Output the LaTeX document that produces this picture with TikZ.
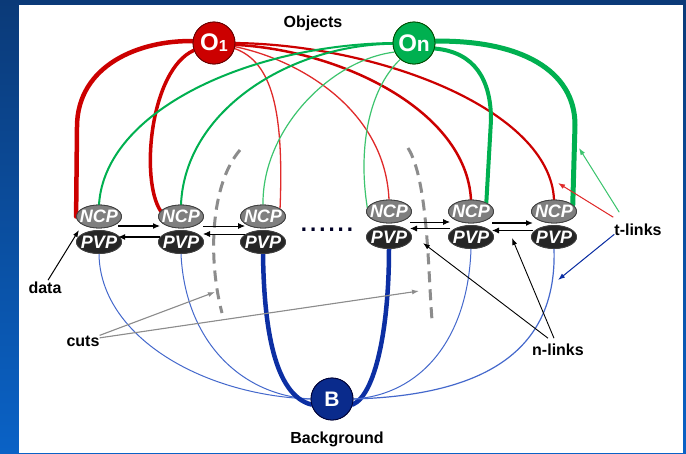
\documentclass[tikz,border=0pt]{standalone}
\usepackage{fontspec}
\setmainfont{Liberation Sans}
\usetikzlibrary{arrows.meta,calc,shapes.geometric}
\definecolor{frameTop}{HTML}{0B3A78}
\definecolor{frameBot}{HTML}{0A62C6}
\definecolor{redc}{HTML}{CC0000}
\definecolor{redthin}{HTML}{E02A2A}
\definecolor{greenc}{HTML}{00B050}
\definecolor{greenthin}{HTML}{3CC46E}
\definecolor{bluethick}{HTML}{0C2FA3}
\definecolor{bluethin}{HTML}{4468CC}
\definecolor{navyB}{HTML}{0A2B8C}
\definecolor{ncpgray}{HTML}{7F7F7F}
\definecolor{pvpdark}{HTML}{262626}
\definecolor{cutgray}{HTML}{8C8C8C}
\begin{document}
\begin{tikzpicture}[x=1pt,y=-1pt,
  obj/.style={circle, minimum size=42pt, inner sep=0pt, line width=0.8pt, text=white},
  ncpnode/.style={ellipse, minimum width=45pt, minimum height=23pt, inner sep=0pt, draw=black!75, fill=ncpgray, line width=0.8pt, text=white, font=\fontsize{18}{18}\selectfont\itshape},
  pvpnode/.style={ncpnode, fill=pvpdark},
  lab/.style={font=\fontsize{16}{19}\selectfont\bfseries, inner sep=0pt, anchor=base, text=black},
  nar/.style={-{Latex[length=7pt,width=6pt]}, line width=1.1pt, black},
  ptr/.style={-{Latex[length=7pt,width=5pt]}, line width=1pt},
  cutline/.style={cutgray, line width=3pt, dash pattern=on 11pt off 7pt},
  rc/.style={draw=redc, line cap=round},
  gc/.style={draw=greenc, line cap=round},
  bc/.style={draw=bluethick, line cap=round}
]
\useasboundingbox (0,0) rectangle (686,453);
\shade[top color=frameTop, bottom color=frameBot] (0,0) rectangle (686,453);
\fill[white] (19,5) rectangle (683,453);

% nodes (placed first so anchors exist)
\node[obj, fill=redc, draw=red!40!black] (o1) at (214,43) {\fontsize{24}{24}\selectfont\bfseries O\raisebox{-1pt}{\fontsize{16}{16}\selectfont 1}};
\node[obj, fill=greenc, draw=green!30!black] (on) at (414,43) {\fontsize{24}{24}\selectfont\bfseries O\fontsize{21}{21}\selectfont n};
\node[obj, fill=navyB, draw=blue!20!black] (b) at (332,399) {\fontsize{21}{21}\selectfont\bfseries B};

\foreach \i/\x/\y in {1/99/216.5, 2/181/216.5, 3/263/216.5, 4/389/211.5, 5/471/211.5, 6/554/211.5}{
  \node[ncpnode] (ncp\i) at (\x,\y) {\makebox[0pt]{\textbf{NCP}}};
  \node[pvpnode] (pvp\i) at (\x,\y+25.5) {\makebox[0pt]{\textbf{PVP}}};
}

% ---- red t-links
\draw[rc, line width=4.5pt] (o1.175) .. controls (140,40) and (77,65) .. (77,127) -- (ncp1.west);
\draw[rc, line width=3.5pt] (o1.200) .. controls (150,70) and (140,180) .. (ncp2.165);
\draw[draw=redthin, line width=1.3pt] (o1.-15) .. controls (272,62) and (284,110) .. (ncp3.25);
\draw[draw=redthin, line width=1.3pt] (o1.-10) .. controls (300,60) and (385,110) .. (ncp4.north);
\draw[rc, line width=2.5pt] (o1.-5) .. controls (340,50) and (466,110) .. (ncp5.north);
\draw[rc, line width=2.2pt] (o1.0) .. controls (380,45) and (550,110) .. (ncp6.north);

% ---- green t-links
\draw[gc, line width=2pt] (on.180) .. controls (250,45) and (105,110) .. (ncp1.north);
\draw[gc, line width=2pt] (on.182) .. controls (290,45) and (185,110) .. (ncp2.north);
\draw[draw=greenthin, line width=1.2pt] (on.205) .. controls (330,60) and (262,130) .. (ncp3.north);
\draw[draw=greenthin, line width=1.2pt] (on.230) .. controls (368,90) and (358,150) .. (ncp4.170);
\draw[gc, line width=4pt] (on.-15) .. controls (475,52) and (491,80) .. (491,120) -- (ncp5.30);
\draw[gc, line width=5pt] (on.5) .. controls (520,40) and (575,70) .. (575,125) -- (ncp6.20);

% ---- blue t-links
\draw[draw=bluethin, line width=1pt] (pvp1.south) .. controls (100,335) and (200,395) .. (b.west);
\draw[draw=bluethin, line width=1pt] (pvp2.south) .. controls (185,340) and (240,395) .. (b.west);
\draw[bc, line width=4.5pt] (pvp3.south) .. controls (264,330) and (275,395) .. (b.195);
\draw[bc, line width=4.5pt] (pvp4.south) .. controls (389,330) and (375,395) .. (b.-15);
\draw[draw=bluethin, line width=1pt] (pvp5.south) .. controls (468,340) and (420,395) .. (b.east);
\draw[draw=bluethin, line width=1.2pt] (pvp6.south) .. controls (557,340) and (500,395) .. (b.east);

% redraw nodes on top of the curves
\node[obj, fill=redc, draw=red!40!black] at (o1) {\fontsize{24}{24}\selectfont\bfseries O\raisebox{-1pt}{\fontsize{16}{16}\selectfont 1}};
\node[obj, fill=greenc, draw=green!30!black] at (on) {\fontsize{24}{24}\selectfont\bfseries O\fontsize{21}{21}\selectfont n};
\node[obj, fill=navyB, draw=blue!20!black] at (b) {\fontsize{21}{21}\selectfont\bfseries B};
\foreach \i in {1,...,6}{
  \node[ncpnode] at (ncp\i) {\makebox[0pt]{\textbf{NCP}}};
  \node[pvpnode] at (pvp\i) {\makebox[0pt]{\textbf{PVP}}};
}

% ---- cuts
\draw[cutline] (240,150) .. controls (210,185) and (208,260) .. (222,313);
\draw[cutline] (408,148) .. controls (428,180) and (428,270) .. (432,320);

% ---- n-links between neighbours
\draw[nar] ([shift={(19,9.5)}]ncp1.center) -- ([shift={(-21,9.5)}]ncp2.center);
\draw[nar, line width=2.2pt] ([shift={(-21,-5)}]pvp2.center) -- ([shift={(19,-5)}]pvp1.center);
\draw[nar, line width=0.9pt] ([shift={(22,9.5)}]ncp2.center) -- ([shift={(-18,9.5)}]ncp3.center);
\draw[nar, line width=0.9pt] ([shift={(-18,-8)}]pvp3.center) -- ([shift={(22,-8)}]pvp2.center);
\draw[nar, line width=0.9pt] ([shift={(21,10.5)}]ncp4.center) -- ([shift={(-21,10.5)}]ncp5.center);
\draw[nar, line width=0.9pt] ([shift={(-21,-8.5)}]pvp5.center) -- ([shift={(21,-8.5)}]pvp4.center);
\draw[nar, line width=2.4pt] ([shift={(21,11.5)}]ncp5.center) -- ([shift={(-21,11.5)}]ncp6.center);
\draw[nar, line width=0.9pt] ([shift={(-21,-6.5)}]pvp6.center) -- ([shift={(21,-6.5)}]pvp5.center);

% dots
\node[inner sep=0pt, anchor=base, text=black!85!blue, font=\fontsize{33}{33}\selectfont] (dots) at (327,231) {......};

% ---- labels
\node[lab] (objects) at (313,27) {Objects};
\node[lab] (bg) at (337,443.5) {Background};
\node[lab] (data) at (45,293) {data};
\node[lab] (cuts) at (83,346) {cuts};
\node[lab] (nlinks) at (558,355) {n-links};
\node[lab] (tlinks) at (638,235) {t-links};

\coordinate (datatip) at (79,230);
\coordinate (cuttipA) at (215,292);
\coordinate (cuttipB) at (419,291);
\coordinate (ntipA) at (423,243);
\coordinate (ntipB) at (512,238);
\coordinate (ttipG) at (579,148);
\coordinate (ttipR) at (558,183);
\coordinate (ttipB) at (558,280);

\draw[ptr, black] ([shift={(3,-1)}]data.north) -- (datatip);
\draw[ptr, draw=black!45, fill=black!45, line width=1.1pt] (cuts.north east) -- (cuttipA);
\draw[ptr, draw=black!45, fill=black!45, line width=1.1pt] ([shift={(0,2.5)}]cuts.north east) -- (cuttipB);
\draw[ptr, black, line width=0.9pt] ([shift={(-10,-5)}]nlinks.north) -- (ntipA);
\draw[ptr, black, line width=0.9pt] ([shift={(-4,-5)}]nlinks.north) -- (ntipB);
\draw[ptr, draw=greenthin, fill=greenthin] ([shift={(5,-11)}]tlinks.north west) -- (ttipG);
\draw[ptr, draw=redthin, fill=redthin] ([shift={(-1,-6)}]tlinks.north west) -- (ttipR);
\draw[ptr, draw=bluethick, fill=bluethick] ([shift={(0,-1)}]tlinks.south west) -- (ttipB);
\end{tikzpicture}
\end{document}
